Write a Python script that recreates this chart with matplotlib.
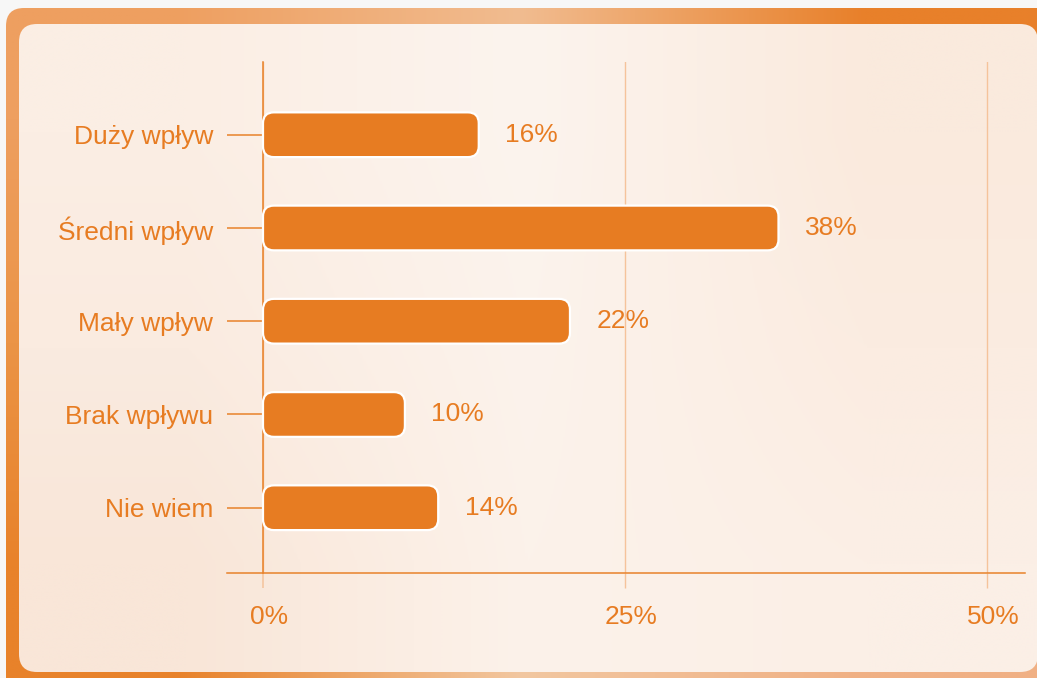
import numpy as np
import matplotlib
matplotlib.use('Agg')
import matplotlib.pyplot as plt
import matplotlib.transforms as mtransforms
from matplotlib.patches import FancyBboxPatch
from matplotlib.colors import to_rgb

plt.rcParams['font.family'] = ['Liberation Sans', 'DejaVu Sans']

# data
categories = ['Duży wpływ', 'Średni wpływ', 'Mały wpływ', 'Brak wpływu', 'Nie wiem']
bar_lengths = [14.9, 35.6, 21.2, 9.8, 12.1]   # as drawn (percent)
value_labels = ['16%', '38%', '22%', '10%', '14%']
x_ticks = [0, 25, 50]
x_tick_labels = ['0%', '25%', '50%']

orange = '#e77c22'
line_dark = '#e8822a'
line_light = '#f5c39b'

W, H = 1037, 678
fig = plt.figure(figsize=(W / 100, H / 100), dpi=100, facecolor='#f7f7f7')

# background frame (decoration)
bg = fig.add_axes([0, 0, 1, 1], zorder=-1)
bg.set_xlim(0, W)
bg.set_ylim(H, 0)
bg.axis('off')


def grad(colors):
    return np.array([[to_rgb(c) for c in row] for row in colors])


outer = FancyBboxPatch((6, 8), W + 40, H + 40,
                       boxstyle='round,pad=0,rounding_size=18',
                       facecolor='none', edgecolor='none')
bg.add_patch(outer)
im = bg.imshow(grad([['#ee9f60', '#f1bc90', '#e8802a'],
                     ['#eb9446', '#f0b98c', '#eea064'],
                     ['#e8822a', '#f2c7a0', '#f0b084']]),
               extent=(6, W, H, 8), interpolation='bilinear', aspect='auto')
im.set_clip_path(outer)

inner = FancyBboxPatch((19, 24), W - 19 + 1, 672 - 24,
                       boxstyle='round,pad=0,rounding_size=18',
                       facecolor='none', edgecolor='none')
bg.add_patch(inner)
im2 = bg.imshow(grad([['#fbeee4', '#fcf4ee', '#faeadd'],
                      ['#faebe0', '#fcf3ec', '#fbece1'],
                      ['#f9e6d8', '#fcf2ea', '#fbefe6']]),
                extent=(19, W, 672, 24), interpolation='bilinear', aspect='auto')
im2.set_clip_path(inner)

# chart
ax = fig.add_axes([227 / W, 1 - 573 / H, (1025 - 227) / W, (573 - 62) / H])
ax.patch.set_alpha(0)

y = np.arange(len(categories))
bars = ax.barh(y, bar_lengths, height=0.48)

px_x = 14.48
px_y = 93.25
ax.set_xlim(-36 / px_x, 762 / px_x)
ax.set_ylim(4.70, -0.78)

# rounded bars with white edge
for b in bars:
    x0, y0 = b.get_x(), b.get_y()
    w, h = b.get_width(), b.get_height()
    b.remove()
    ax.add_patch(FancyBboxPatch((x0, y0), w, h,
                                boxstyle='round,pad=0,rounding_size=0.75',
                                mutation_aspect=px_x / px_y,
                                facecolor=orange, edgecolor='white',
                                linewidth=1.6, zorder=3))

for i, (v, lab) in enumerate(zip(bar_lengths, value_labels)):
    ax.annotate(lab, (v, i), xytext=(19, 0), textcoords='offset points',
                va='center', ha='left', color=orange, fontsize=19)

ax.spines['top'].set_visible(False)
ax.spines['right'].set_visible(False)
ax.spines['left'].set_position(('data', 0))
ax.spines['left'].set_color(line_dark)
ax.spines['left'].set_linewidth(1.1)
ax.spines['bottom'].set_color(line_dark)
ax.spines['bottom'].set_linewidth(1.1)

ax.set_yticks(y)
ax.set_yticklabels(categories)
ax.tick_params(axis='y', length=26, width=1.1, color=line_dark, pad=10,
               labelsize=19, labelcolor=orange)

ax.set_xticks(x_ticks)
ax.set_xticklabels(x_tick_labels)
ax.tick_params(axis='x', length=11, width=1.0, color=line_light, pad=12,
               labelsize=19, labelcolor=orange)
ax.xaxis.get_major_ticks()[0].tick1line.set_color(line_dark)
ax.xaxis.get_major_ticks()[0].tick1line.set_markeredgewidth(1.1)

# labels sit a little right of their ticks in the original
shift = mtransforms.ScaledTranslation(6 / 100, 0, fig.dpi_scale_trans)
for lbl in ax.get_xticklabels():
    lbl.set_transform(lbl.get_transform() + shift)

ax.grid(axis='x', color=line_light, linewidth=1.0)
ax.set_axisbelow(True)

fig.savefig('out.png', dpi=100, facecolor=fig.get_facecolor())
